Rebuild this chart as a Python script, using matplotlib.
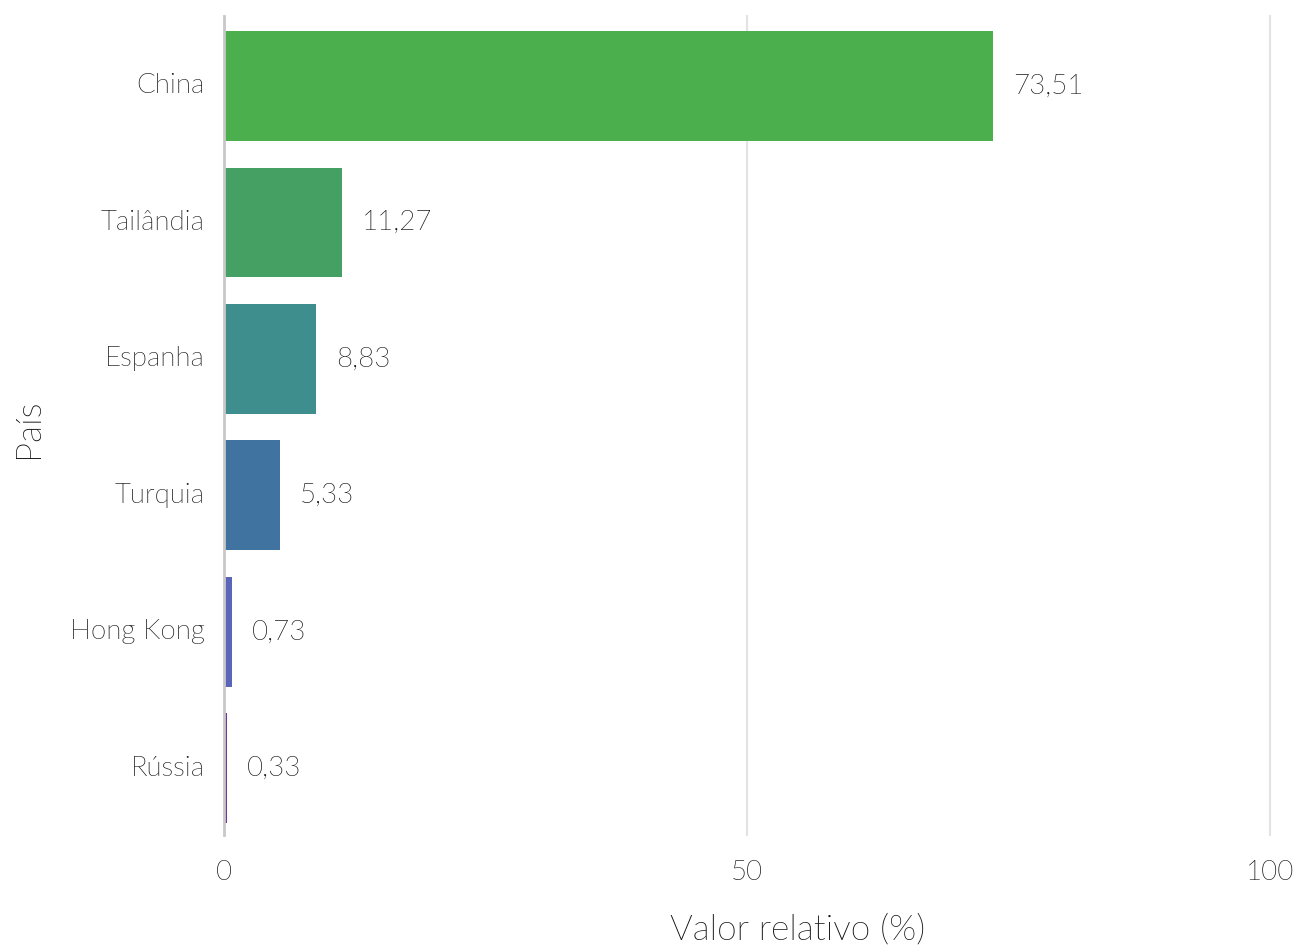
import matplotlib
matplotlib.use("Agg")
import matplotlib.pyplot as plt
from matplotlib import font_manager as fm

paises = ["China", "Tailândia", "Espanha", "Turquia", "Hong Kong", "Rússia"]
valores = [73.51, 11.27, 8.83, 5.33, 0.73, 0.33]
cores = ["#4caf4e", "#45a064", "#3f8e8e", "#4173a0", "#5b66ba", "#6d3b96"]
xticks = [0, 50, 100]

# locate Lato Light file
lato_light = None
for f in fm.fontManager.ttflist:
    fn = f.fname.lower()
    if "lato" in fn and "light" in fn and "italic" not in fn and "hairline" not in fn:
        lato_light = f.fname
        break

def fp(size):
    if lato_light:
        return fm.FontProperties(fname=lato_light, size=size)
    return fm.FontProperties(family=["Lato", "DejaVu Sans"], weight="normal", size=size)

TXT = "#111111"
W, H = 1296, 946
fig = plt.figure(figsize=(W / 100, H / 100), dpi=100)
left, right, top, bottom = 224, 1270, 16, 835
ax = fig.add_axes([left / W, 1 - bottom / H, (right - left) / W, (bottom - top) / H])

y = list(range(len(paises)))
ax.barh(y, valores, height=0.805, color=cores, zorder=2)
for yi, v in zip(y, valores):
    ax.text(v + 1.9, yi, f"{v:.2f}".replace(".", ","), va="center", ha="left",
            fontproperties=fp(20), color=TXT)

ax.set_ylim(5.49, -0.513)
ax.set_xlim(0, 100)
ax.set_yticks(y)
ax.set_yticklabels(paises, fontproperties=fp(20), color=TXT, va="center")
ax.set_xticks(xticks)
ax.set_xticklabels([str(t) for t in xticks], fontproperties=fp(20), color=TXT)
ax.tick_params(axis="both", length=0)
ax.tick_params(axis="y", pad=14)
ax.tick_params(axis="x", pad=18)
for s in ax.spines.values():
    s.set_visible(False)
for t in xticks:
    ax.axvline(t, color="#c8c8c8" if t == 0 else "#e3e3e3", lw=2 if t == 0 else 1.5,
               zorder=1 if t else 3, clip_on=False)

fig.text(798 / W, 1 - 930 / H, "Valor relativo (%)", ha="center", va="center",
         fontproperties=fp(25.5), color=TXT)
fig.text(28 / W, 1 - 428 / H, "País", ha="center", va="center", rotation=90,
         fontproperties=fp(25.5), color=TXT)

fig.savefig("out.png", dpi=100)
